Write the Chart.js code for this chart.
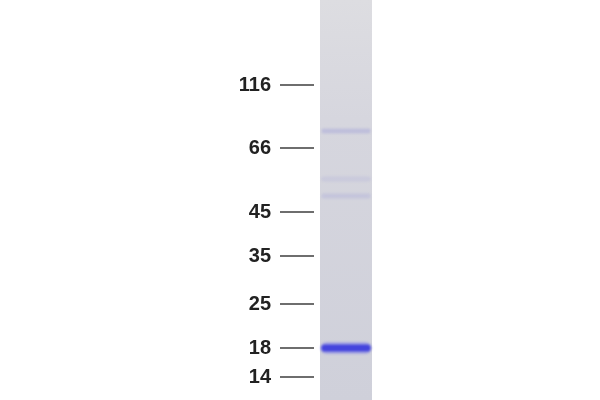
<!DOCTYPE html>
<html>
<head>
<meta charset="utf-8">
<script src="https://cdn.jsdelivr.net/npm/chart.js@4"></script>
<style>
  html, body { margin: 0; padding: 0; background: #ffffff; }
  #wrap { width: 600px; height: 400px; }
</style>
</head>
<body>
<div id="wrap"><canvas id="gel"></canvas></div>
<script>
// marker ladder (kDa) and where each one ran on the gel (migration, 0 = top of gel)
var markerLabels = ['116', '66', '45', '35', '25', '18', '14'];
var markerMigration = [85, 148, 212, 256, 304, 348, 377];

// protein bands seen in the sample lane
var bandMigration = [131, 179, 196, 348];
var bandIntensity = [0.10, 0.05, 0.07, 1.0];

var laneName = ['sample'];

function corBanda(a) {
    if (a >= 0.5) return 'rgba(62, 62, 220, 0.95)';
    return 'rgba(140, 140, 215, ' + (a * 3) + ')';
}

// one dataset per band so they all sit on the same lane
var bandas = [];
bandMigration.forEach(function (v, i) {
    var forte = bandIntensity[i] >= 0.5;
    if (forte) {
        bandas.push({
            label: 'halo ' + i,
            grouped: false,
            order: 1,
            data: [[v - 6, v + 6]],
            backgroundColor: 'rgba(120, 120, 232, 0.45)',
            borderRadius: 6,
            borderSkipped: false,
            barPercentage: 1,
            categoryPercentage: 0.8
        });
    }
    var h = forte ? 3.5 : 2.5;
    bandas.push({
        label: 'band ' + i,
        grouped: false,
        order: 0,
        data: [[v - h, v + h]],
        backgroundColor: corBanda(bandIntensity[i]),
        borderRadius: 4,
        borderSkipped: false,
        barPercentage: 0.96,
        categoryPercentage: 0.8
    });
});

var lane = {
    label: 'lane',
    grouped: false,
    order: 2,
    data: [[0, 400]],
    backgroundColor: function (c) {
        var area = c.chart.chartArea;
        if (!area) return '#d4d4dc';
        var g = c.chart.ctx.createLinearGradient(0, area.top, 0, area.bottom);
        g.addColorStop(0, '#dddde1');
        g.addColorStop(0.3, '#d6d6de');
        g.addColorStop(1, '#cfd0da');
        return g;
    },
    barPercentage: 1,
    categoryPercentage: 0.8125
};

// soft edges on the bands, like stain on a gel
var desfoque = {
    id: 'desfoque',
    beforeDatasetDraw: function (chart, args) {
        if (args.meta.label.indexOf('band') === 0 || args.meta.label.indexOf('halo') === 0) {
            chart.ctx.save();
            chart.ctx.filter = 'blur(1.2px)';
        }
    },
    afterDatasetDraw: function (chart, args) {
        if (args.meta.label.indexOf('band') === 0 || args.meta.label.indexOf('halo') === 0) {
            chart.ctx.restore();
        }
    }
};

var ctx = document.getElementById('gel').getContext('2d');

var grafico = new Chart(ctx, {
    type: 'bar',
    data: {
        labels: laneName,
        datasets: bandas.concat([lane])
    },
    plugins: [desfoque],
    options: {
        responsive: true,
        maintainAspectRatio: false,
        animation: false,
        layout: { padding: { top: 0, bottom: 0, left: 0, right: 222 } },
        plugins: {
            legend: { display: false },
            tooltip: { enabled: false }
        },
        scales: {
            x: { display: false },
            y: {
                reverse: true,
                min: 0,
                max: 400,
                border: { display: false },
                grid: {
                    drawOnChartArea: false,
                    drawTicks: true,
                    tickLength: 34,
                    color: '#6e6e6e',
                    lineWidth: 2
                },
                afterFit: function (scale) {
                    scale.width = 314;
                    scale.paddingTop = 0;
                    scale.paddingBottom = 0;
                },
                afterBuildTicks: function (scale) {
                    scale.ticks = markerMigration.map(function (v) { return { value: v }; });
                },
                ticks: {
                    padding: 9,
                    color: '#222222',
                    font: { family: 'Liberation Sans, Arial, sans-serif', size: 20, weight: 'bold' },
                    callback: function (value, index) { return markerLabels[index]; }
                }
            }
        }
    }
});
</script>
</body>
</html>
